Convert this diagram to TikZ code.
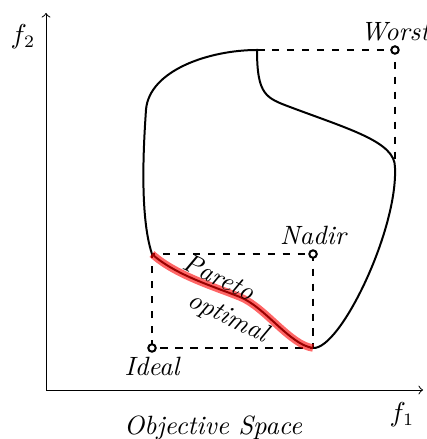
\documentclass[tikz,border=0pt]{standalone}
\usetikzlibrary{arrows}

\begin{document}
\begin{tikzpicture}[
    every node/.style={font=\fontsize{10.6}{12.7}\selectfont},
    axis/.style={->},
    region/.style={thick},
    front/.style={red, line width=3pt, opacity=0.6},
    guide/.style={thick, dashed},
    refpt/.style={circle, draw, thick, fill=white, inner sep=0pt, minimum size=3pt},
    ptlabel/.style={font=\fontsize{10.6}{12.7}\selectfont\itshape},
]
\useasboundingbox (-0.648,-0.690) rectangle (5.352,5.493);

% axes
\coordinate (origin) at (0,0);
\coordinate (xend) at (5.31,0);
\coordinate (yend) at (0,5.31);
\draw[axis] (origin) -- (xend);
\draw[axis] (origin) -- (yend);
\node (f1) at (5.014,-0.352) {$f_1$};
\node (f2) at (-0.324,4.972) {$f_2$};
\node[ptlabel] (space) at (2.352,-0.535) {Objective Space};

% corners of the feasible region
\coordinate (pstart) at (1.493,1.915);
\coordinate (pend) at (3.761,0.592);
\coordinate (top) at (2.972,4.789);
\coordinate (right) at (4.915,3.141);

% reference points
\coordinate (ideal) at (1.493,0.592);
\coordinate (nadir) at (3.761,1.915);
\coordinate (worst) at (4.915,4.789);

\draw[guide] (ideal) rectangle (nadir);
\draw[guide] (top) -- (worst) -- (right);

% feasible region
\draw[region] (pstart)
    .. controls (1.310,2.465) and (1.380,3.521) .. (1.408,3.944)
    .. controls (1.451,4.507) and (2.310,4.789) .. (top)
    .. controls (2.972,4.155) and (3.099,4.113) .. (3.437,3.986)
    .. controls (4.282,3.669) and (4.915,3.493) .. (right)
    .. controls (4.958,2.254) and (4.141,0.563) .. (pend)
    .. controls (3.437,0.634) and (3.085,1.169) .. (2.732,1.310)
    .. controls (2.380,1.451) and (1.817,1.620) .. (pstart);

% pareto front
\draw[front] (pstart)
    .. controls (1.817,1.620) and (2.380,1.451) .. (2.732,1.310)
    .. controls (3.085,1.169) and (3.437,0.634) .. (pend);
\node[ptlabel, rotate=-26] (pareto) at (2.437,1.592) {Pareto};
\node[ptlabel, rotate=-26] (optimal) at (2.563,1.014) {optimal};

\node[refpt] (idealpt) at (ideal) {};
\node[refpt] (nadirpt) at (nadir) {};
\node[refpt] (worstpt) at (worst) {};
\node[ptlabel, below] (ideallbl) at (ideal) {Ideal};
\node[ptlabel, above] (nadirlbl) at (nadir) {Nadir};
\node[ptlabel, above] (worstlbl) at (worst) {Worst};
\end{tikzpicture}
\end{document}
